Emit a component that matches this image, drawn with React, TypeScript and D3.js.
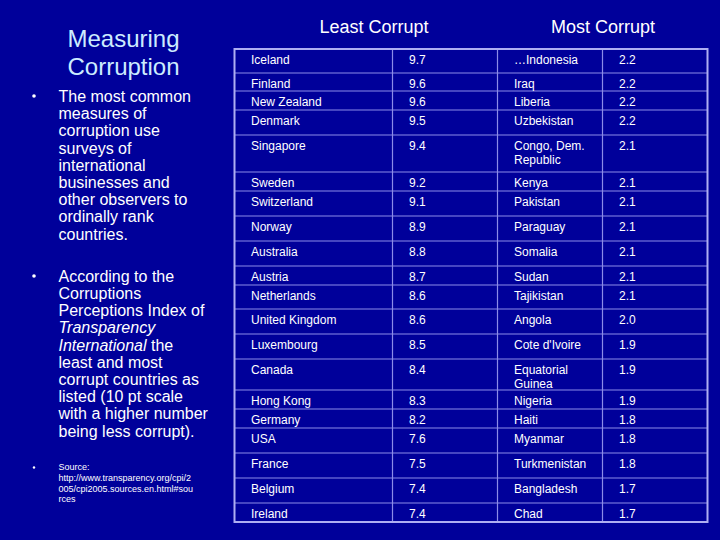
import React, { useEffect, useMemo } from 'react';
import * as d3 from 'd3';

// data (CPI 2005)
const leastCountries = [
  'Iceland', 'Finland', 'New Zealand', 'Denmark', 'Singapore', 'Sweden', 'Switzerland',
  'Norway', 'Australia', 'Austria', 'Netherlands', 'United Kingdom', 'Luxembourg', 'Canada',
  'Hong Kong', 'Germany', 'USA', 'France', 'Belgium', 'Ireland',
];
const leastScores = [9.7, 9.6, 9.6, 9.5, 9.4, 9.2, 9.1, 8.9, 8.8, 8.7, 8.6, 8.6, 8.5, 8.4, 8.3, 8.2, 7.6, 7.5, 7.4, 7.4];
const mostCountries = [
  '…Indonesia', 'Iraq', 'Liberia', 'Uzbekistan', 'Congo, Dem. Republic', 'Kenya', 'Pakistan',
  'Paraguay', 'Somalia', 'Sudan', 'Tajikistan', 'Angola', "Cote d'Ivoire", 'Equatorial Guinea',
  'Nigeria', 'Haiti', 'Myanmar', 'Turkmenistan', 'Bangladesh', 'Chad',
];
const mostScores = [2.2, 2.2, 2.2, 2.2, 2.1, 2.1, 2.1, 2.1, 2.1, 2.1, 2.1, 2.0, 1.9, 1.9, 1.9, 1.8, 1.8, 1.8, 1.7, 1.7];
const headers = ['Least Corrupt', 'Most Corrupt'];

// layout of the slide table (row heights vary like the original powerpoint)
const rowHeights = [24, 18, 19, 25, 37, 19, 25, 25, 25, 19, 24, 25, 25, 31, 19, 19, 25, 25, 25, 19];
const colEdges = [234.5, 392.5, 497.5, 602.5, 707.5];

const W = 720, H = 540;
const BG = '#00009A';
const GRID = '#8C8CE8';
const BORDER = '#AEAEF2';
const FONT = 'Arial, "Liberation Sans", sans-serif';

// split a label so it fits into a cell
function wrap(label: string, maxW: number, font: string): string[] {
  const ctx = document.createElement('canvas').getContext('2d');
  if (!ctx) return [label];
  ctx.font = font;
  const words = label.split(' ');
  const lines: string[] = [];
  let cur = '';
  words.forEach(w => {
    const test = cur ? cur + ' ' + w : w;
    if (ctx.measureText(test).width > maxW && cur) {
      lines.push(cur);
      cur = w;
    } else cur = test;
  });
  if (cur) lines.push(cur);
  return lines;
}

export default function App() {
  useEffect(() => {
    document.body.style.margin = '0';
    document.body.style.background = BG;
  }, []);

  const tableTop = 49;
  const rowTops = useMemo(() => [tableTop, ...Array.from(d3.cumsum(rowHeights)).map(v => tableTop + v)], []);
  const y = d3.scaleOrdinal<number, number>().domain(d3.range(rowHeights.length)).range(rowTops);
  const x = d3.scaleOrdinal<number, number>().domain(d3.range(4)).range(colEdges);
  const tableBottom = rowTops[rowTops.length - 1];
  const pad = 16.5;

  const rows = leastCountries.map((c, i) => [c, leastScores[i].toFixed(1), mostCountries[i], mostScores[i].toFixed(1)]);
  const fmt = (s: string) => s;

  const bullet1 = ['The most common', 'measures of', 'corruption use', 'surveys of', 'international',
    'businesses and', 'other observers to', 'ordinally rank', 'countries.'];
  const source = ['Source:', 'http://www.transparency.org/cpi/2', '005/cpi2005.sources.en.html#sou', 'rces'];

  return (
    <svg width={W} height={H} style={{ position: 'fixed', left: 0, top: 0, display: 'block' }} fontFamily={FONT}>
      <rect width={W} height={H} fill={BG} />

      {/* left panel */}
      <g fill="#CCECFF" fontSize={24} textAnchor="middle">
        <text x={123.5} y={47}>Measuring</text>
        <text x={123.5} y={74.5}>Corruption</text>
      </g>
      <g fill="#FFFFFF" fontSize={16}>
        <circle cx={34} cy={96} r={1.8} fill="#fff" />
        {bullet1.map((t, i) => (
          <text key={i} x={58.5} y={102 + i * 17.2}>{t}</text>
        ))}
        <circle cx={34} cy={276} r={1.8} fill="#fff" />
        <text x={58.5} y={281.7}>According to the</text>
        <text x={58.5} y={281.7 + 17.2}>Corruptions</text>
        <text x={58.5} y={281.7 + 17.2 * 2}>Perceptions Index of</text>
        <text x={58.5} y={281.7 + 17.2 * 3} fontStyle="italic">Transparency</text>
        <text x={58.5} y={281.7 + 17.2 * 4}>
          <tspan fontStyle="italic">International</tspan> the
        </text>
        <text x={58.5} y={281.7 + 17.2 * 5}>least and most</text>
        <text x={58.5} y={281.7 + 17.2 * 6}>corrupt countries as</text>
        <text x={58.5} y={281.7 + 17.2 * 7}>listed (10 pt scale</text>
        <text x={58.5} y={281.7 + 17.2 * 8}>with a higher number</text>
        <text x={58.5} y={281.7 + 17.2 * 9}>being less corrupt).</text>
        <circle cx={34} cy={467.5} r={1.2} fill="#fff" />
        {source.map((t, i) => (
          <text key={i} x={58.5} y={470 + i * 10.8} fontSize={9}>{t}</text>
        ))}
      </g>

      {/* headers */}
      <g fill="#FFFFFF" fontSize={18} textAnchor="middle">
        <text x={374} y={33}>{headers[0]}</text>
        <text x={603} y={33}>{headers[1]}</text>
      </g>

      {/* table grid */}
      <g stroke={GRID} strokeWidth={1.2} fill="none">
        {rowTops.slice(1, -1).map((t, i) => (
          <line key={'h' + i} x1={colEdges[0]} x2={colEdges[4]} y1={t} y2={t} />
        ))}
        {colEdges.slice(1, -1).map((c, i) => (
          <line key={'v' + i} x1={c} x2={c} y1={tableTop} y2={tableBottom} />
        ))}
      </g>
      <rect x={colEdges[0]} y={tableTop} width={colEdges[4] - colEdges[0]} height={tableBottom - tableTop}
        fill="none" stroke={BORDER} strokeWidth={2} />

      {/* table text */}
      <g fill="#FFFFFF" fontSize={12}>
        {rows.map((r, i) => (
          <g key={i}>
            {r.map((cell, j) => {
              const lines = j === 2 ? wrap(fmt(cell), 84, `12px ${FONT}`) : [cell];
              return (
                <text key={j} x={x(j) + pad} y={y(i) + 15}>
                  {lines.map((l, k) => (
                    <tspan key={k} x={x(j) + pad} dy={k === 0 ? 0 : 14}>{l}</tspan>
                  ))}
                </text>
              );
            })}
          </g>
        ))}
      </g>
    </svg>
  );
}
